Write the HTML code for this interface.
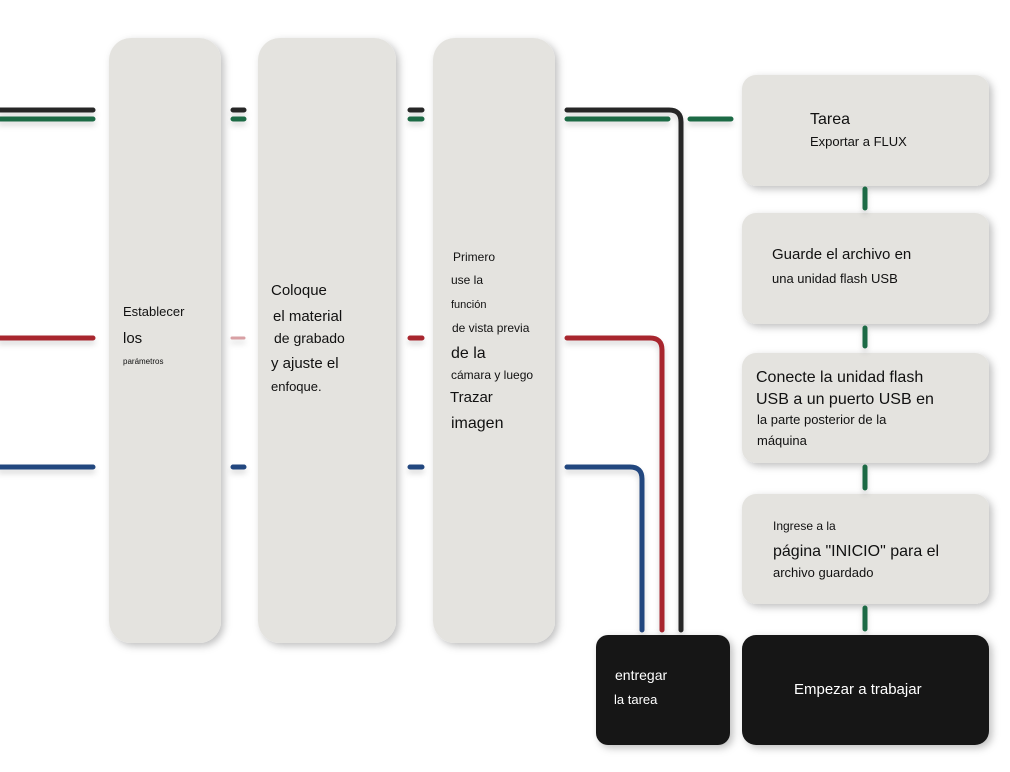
<!DOCTYPE html>
<html><head><meta charset="utf-8"><style>
body{margin:0;background:#fff;}
svg{display:block;font-family:"Liberation Sans",sans-serif;}
</style></head><body>
<svg width="1010" height="772" viewBox="0 0 1010 772" xmlns="http://www.w3.org/2000/svg">
<defs>
<filter id="sh" x="-20%" y="-10%" width="140%" height="130%"><feDropShadow dx="3" dy="3" stdDeviation="4" flood-color="#000" flood-opacity="0.25"/></filter>
<filter id="ls" x="-10%" y="-200%" width="120%" height="500%"><feDropShadow dx="0" dy="4" stdDeviation="3" flood-color="#000" flood-opacity="0.15"/></filter>
</defs>
<g filter="url(#sh)" fill="#e4e3df">
<rect x="109" y="38" width="112" height="605" rx="22"/>
<rect x="258" y="38" width="138" height="605" rx="22"/>
<rect x="433" y="38" width="122" height="605" rx="22"/>
<rect x="742" y="75" width="247" height="111" rx="14"/>
<rect x="742" y="213" width="247" height="111" rx="14"/>
<rect x="742" y="353" width="247" height="110" rx="14"/>
<rect x="742" y="494" width="247" height="110" rx="14"/>
<rect x="596" y="635" width="134" height="110" rx="12" fill="#161717"/>
<rect x="742" y="635" width="247" height="110" rx="14" fill="#161717"/>
</g>
<g fill="none" stroke-width="5" stroke-linecap="round" filter="url(#ls)">
<path d="M0 110H93M233 110H244M410 110H422" stroke="#262626"/>
<path d="M0 119H93M233 119H244M410 119H422" stroke="#1e6b45"/>
<path d="M0 338H93M410 338H422" stroke="#a8262f"/>
<path d="M232 338H244" stroke="#d8a0a4" stroke-width="3"/>
<path d="M0 467H93M233 467H244M410 467H422" stroke="#20467f"/>
<path d="M567 110H669Q681 110 681 122V630" stroke="#262626"/>
<path d="M567 119H668M690 119H731" stroke="#1e6b45"/>
<path d="M567 338H650Q662 338 662 350V630" stroke="#a8262f"/>
<path d="M567 467H630Q642 467 642 479V630" stroke="#20467f"/>
<path d="M865 189V208M865 328V346M865 467V488M865 608V629" stroke="#1e6b45"/>
</g>
<g fill="#111" font-size="13">
<text x="123" y="316">Establecer</text>
<text x="123" y="343" font-size="15">los</text>
<text x="123" y="364" font-size="8">parámetros</text>
<text x="271" y="295" font-size="15">Coloque</text>
<text x="273" y="321" font-size="15">el material</text>
<text x="274" y="343" font-size="14">de grabado</text>
<text x="271" y="368" font-size="15">y ajuste el</text>
<text x="271" y="391">enfoque.</text>
<text x="453" y="261" font-size="12">Primero</text>
<text x="451" y="284" font-size="12">use la</text>
<text x="451" y="308" font-size="11">función</text>
<text x="452" y="332" font-size="12">de vista previa</text>
<text x="451" y="358" font-size="16">de la</text>
<text x="451" y="379" font-size="12">cámara y luego</text>
<text x="450" y="402" font-size="15">Trazar</text>
<text x="451" y="428" font-size="16">imagen</text>
<text x="810" y="124" font-size="16">Tarea</text>
<text x="810" y="146">Exportar a FLUX</text>
<text x="772" y="259" font-size="15">Guarde el archivo en</text>
<text x="772" y="283">una unidad flash USB</text>
<text x="756" y="382" font-size="16">Conecte la unidad flash</text>
<text x="756" y="404" font-size="16">USB a un puerto USB en</text>
<text x="757" y="424">la parte posterior de la</text>
<text x="757" y="445">máquina</text>
<text x="773" y="530" font-size="12">Ingrese a la</text>
<text x="773" y="556" font-size="16">página "INICIO" para el</text>
<text x="773" y="577">archivo guardado</text>
</g>
<g fill="#fff" font-size="14">
<text x="615" y="680">entregar</text>
<text x="614" y="704" font-size="13">la tarea</text>
<text x="794" y="694" font-size="15">Empezar a trabajar</text>
</g>
</svg>
</body></html>
